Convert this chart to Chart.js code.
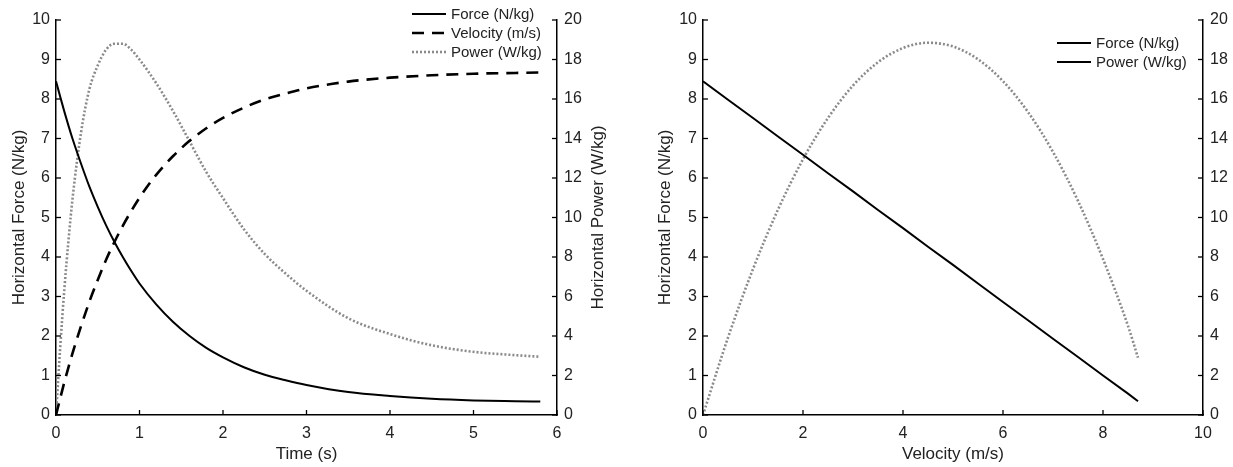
<!DOCTYPE html>
<html>
<head>
<meta charset="utf-8">
<script src="https://cdn.jsdelivr.net/npm/chart.js@4.4.0/dist/chart.umd.min.js"></script>
<style>
html, body { margin: 0; padding: 0; background: #fff; }
#wrap { position: relative; width: 1233px; height: 467px; }
canvas { position: absolute; top: 0; }
#chartTiempo { left: 0; }
#chartVelocidad { left: 617px; }
</style>
</head>
<body>
<div id="wrap">
    <canvas id="chartTiempo" width="617" height="467"></canvas>
    <canvas id="chartVelocidad" width="616" height="467"></canvas>
</div>
<script>
// valores
const tiempo = [0, 0.05, 0.1, 0.15, 0.2, 0.3, 0.4, 0.5, 0.6, 0.7, 0.8, 0.9, 1.0, 1.2, 1.4, 1.6, 1.8, 2.0, 2.25, 2.5, 2.75, 3.0, 3.5, 4.0, 4.5, 5.0, 5.5, 5.8]
const fuerzaTiempo = [8.45, 8.06, 7.68, 7.32, 6.98, 6.36, 5.78, 5.27, 4.80, 4.38, 4.00, 3.65, 3.33, 2.80, 2.36, 2.00, 1.70, 1.46, 1.21, 1.02, 0.88, 0.76, 0.58, 0.48, 0.41, 0.37, 0.35, 0.34]
const velocidadTiempo = [0, 0.42, 0.83, 1.21, 1.58, 2.25, 2.87, 3.42, 3.93, 4.38, 4.79, 5.16, 5.50, 6.08, 6.55, 6.94, 7.26, 7.52, 7.78, 7.99, 8.14, 8.27, 8.44, 8.54, 8.60, 8.64, 8.66, 8.67]
const potenciaTiempo = [0, 3.39, 6.37, 8.86, 11.03, 14.31, 16.5, 17.7, 18.5, 18.8, 18.8, 18.5, 18.0, 16.8, 15.4, 13.85, 12.3, 10.98, 9.41, 8.15, 7.16, 6.29, 4.90, 4.10, 3.53, 3.20, 3.03, 2.95]

const velocidad = [0, 0.5, 1, 1.5, 2, 2.5, 3, 3.5, 4, 4.5, 5, 5.5, 6, 6.5, 7, 7.5, 8, 8.5, 8.7]
const fuerzaVelocidad = [8.45, 7.98, 7.52, 7.05, 6.59, 6.12, 5.66, 5.19, 4.73, 4.26, 3.80, 3.33, 2.86, 2.40, 1.93, 1.47, 1.00, 0.54, 0.35]
const potenciaVelocidad = [0, 3.92, 7.39, 10.40, 12.95, 15.04, 16.68, 17.86, 18.58, 18.85, 18.66, 18.01, 16.90, 15.34, 13.32, 10.84, 7.90, 4.51, 2.9]

const fuente = '"Liberation Sans", Arial, Helvetica, sans-serif'
const gris = '#8a8a8a'
const estiloFuerza = { color: '#000', width: 2, dash: [] }
const estiloVelocidad = { color: '#000', width: 2.6, dash: [12, 8] }
const estiloPotencia = { color: gris, width: 2.6, dash: [2, 2] }

const puntos = (xs, ys) => xs.map((x, i) => ({ x: x, y: ys[i] }))

// ticks hacia adentro, como en el original
const ticksAdentro = {
    id: 'ticksAdentro',
    afterDraw(chart) {
        const ctx = chart.ctx
        const area = chart.chartArea
        ctx.save()
        ctx.strokeStyle = '#000'
        ctx.lineWidth = 1.3
        Object.values(chart.scales).forEach(scale => {
            scale.ticks.forEach(t => {
                const p = scale.getPixelForValue(t.value)
                ctx.beginPath()
                if (scale.axis === 'x') {
                    ctx.moveTo(p, area.bottom); ctx.lineTo(p, area.bottom - 5)
                } else if (scale.position === 'left') {
                    ctx.moveTo(area.left, p); ctx.lineTo(area.left + 5, p)
                } else {
                    ctx.moveTo(area.right, p); ctx.lineTo(area.right - 5, p)
                }
                ctx.stroke()
            })
        })
        ctx.restore()
    }
}

// titulo del eje derecho leyendo hacia arriba
const tituloDerecho = (texto, x) => ({
    id: 'tituloDerecho',
    afterDraw(chart) {
        const ctx = chart.ctx
        const area = chart.chartArea
        ctx.save()
        ctx.translate(x, (area.top + area.bottom) / 2)
        ctx.rotate(-Math.PI / 2)
        ctx.font = '17px ' + fuente
        ctx.fillStyle = '#222'
        ctx.textAlign = 'center'
        ctx.textBaseline = 'middle'
        ctx.fillText(texto, 0, 0)
        ctx.restore()
    }
})

const crearLeyenda = (items, x, y, gap) => ({
    id: 'leyenda',
    afterDraw(chart) {
        const ctx = chart.ctx
        ctx.save()
        ctx.font = '15px ' + fuente
        ctx.textBaseline = 'middle'
        items.forEach((it, i) => {
            const yy = y + i * gap
            ctx.strokeStyle = it.estilo.color
            ctx.lineWidth = it.estilo.width
            ctx.setLineDash(it.estilo.dash)
            ctx.beginPath()
            ctx.moveTo(x, yy)
            ctx.lineTo(x + 34, yy)
            ctx.stroke()
            ctx.setLineDash([])
            ctx.fillStyle = '#222'
            ctx.fillText(it.texto, x + 39, yy + 1)
        })
        ctx.restore()
    }
})

const dataset = (label, data, estilo, eje) => ({
    label: label,
    data: data,
    yAxisID: eje,
    borderColor: estilo.color,
    borderWidth: estilo.width,
    borderDash: estilo.dash,
    pointRadius: 0,
    fill: false,
    cubicInterpolationMode: 'monotone'
})

const eje = (pos, min, max, step, ancho, titulo, padTitulo, padTicks) => ({
    type: 'linear',
    position: pos,
    min: min,
    max: max,
    afterFit: s => { if (pos === 'bottom') s.height = ancho; else s.width = ancho },
    ticks: { stepSize: step, color: '#222', font: { family: fuente, size: 16 }, padding: padTicks, autoSkip: false, maxRotation: 0 },
    grid: { drawOnChartArea: false, drawTicks: false },
    border: { display: true, color: '#000', width: 1.5 },
    title: { display: titulo !== '', text: titulo, color: '#222', font: { family: fuente, size: 17 }, padding: pos === 'bottom' ? { top: 0, bottom: padTitulo } : { top: padTitulo, bottom: 0 } }
})

const opcionesBase = (escalas) => ({
    responsive: false,
    animation: false,
    layout: { padding: { top: 20 } },
    plugins: { legend: { display: false }, tooltip: { enabled: false } },
    scales: escalas
})

new Chart(document.getElementById('chartTiempo').getContext('2d'), {
    type: 'line',
    data: {
        datasets: [
            dataset('Force (N/kg)', puntos(tiempo, fuerzaTiempo), estiloFuerza, 'y'),
            dataset('Velocity (m/s)', puntos(tiempo, velocidadTiempo), estiloVelocidad, 'y'),
            dataset('Power (W/kg)', puntos(tiempo, potenciaTiempo), estiloPotencia, 'y2')
        ]
    },
    options: opcionesBase({
        x: eje('bottom', 0, 6, 1, 52, 'Time (s)', 2, 9),
        y: eje('left', 0, 10, 1, 56, 'Horizontal Force (N/kg)', 9, 6),
        y2: eje('right', 0, 20, 2, 60, '', 0, 7)
    }),
    plugins: [ticksAdentro, tituloDerecho('Horizontal Power (W/kg)', 598), crearLeyenda([
        { texto: 'Force (N/kg)', estilo: estiloFuerza },
        { texto: 'Velocity (m/s)', estilo: estiloVelocidad },
        { texto: 'Power (W/kg)', estilo: estiloPotencia }
    ], 412, 14, 19)]
})

new Chart(document.getElementById('chartVelocidad').getContext('2d'), {
    type: 'line',
    data: {
        datasets: [
            Object.assign(dataset('Force (N/kg)', puntos(velocidad, fuerzaVelocidad), estiloFuerza, 'y'), { cubicInterpolationMode: 'default', tension: 0 }),
            dataset('Power (W/kg)', puntos(velocidad, potenciaVelocidad), estiloPotencia, 'y2')
        ]
    },
    options: opcionesBase({
        x: eje('bottom', 0, 10, 2, 52, 'Velocity (m/s)', 2, 9),
        y: eje('left', 0, 10, 1, 86, 'Horizontal Force (N/kg)', 38, 6),
        y2: eje('right', 0, 20, 2, 30, '', 0, 7)
    }),
    plugins: [ticksAdentro, crearLeyenda([
        { texto: 'Force (N/kg)', estilo: estiloFuerza },
        { texto: 'Power (W/kg)', estilo: estiloFuerza }
    ], 440, 43, 19)]
})
</script>
</body>
</html>
